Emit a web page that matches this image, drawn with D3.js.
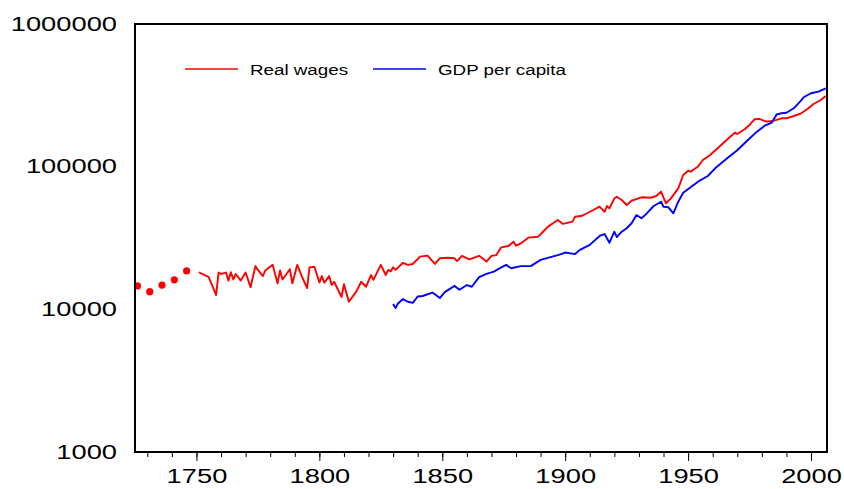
<!DOCTYPE html>
<html>
<head>
<meta charset="utf-8">
<script src="https://cdn.jsdelivr.net/npm/d3@7"></script>
<style>
  body { margin: 0; background: #fff; }
  text { font-family: "Liberation Sans", Arial, sans-serif; fill: #000; }
</style>
</head>
<body>
<svg id="chart" width="844" height="489"></svg>
<script>
// early wage estimates, shown as dots
const wageDotYears = [1726, 1731, 1736, 1741, 1746];
const wageDotValues = [14600, 13300, 14800, 16100, 18600];

// real wages (annual series)
const wageYears = [1751, 1755, 1758, 1759, 1760, 1762, 1763, 1764, 1765, 1766, 1768, 1770, 1772, 1774, 1775, 1777, 1778, 1781, 1783, 1784,
  1785, 1788, 1789, 1791, 1793, 1795, 1796, 1798, 1800, 1801, 1802, 1804, 1805, 1806, 1809, 1810, 1812, 1815, 1817, 1819,
  1821, 1822, 1825, 1827, 1828, 1829, 1830, 1831, 1834, 1836, 1838, 1841, 1844, 1847, 1849, 1852, 1855, 1856, 1858, 1861,
  1865, 1868, 1870, 1872, 1874, 1877, 1879, 1880, 1882, 1885, 1889, 1891, 1893, 1895, 1897, 1899, 1903, 1904, 1907, 1910,
  1914, 1916, 1917, 1918, 1920, 1921, 1923, 1925, 1927, 1931, 1935, 1937, 1939, 1941, 1943, 1946, 1948, 1950, 1951, 1953,
  1954, 1956, 1959, 1963, 1966, 1969, 1970, 1973, 1975, 1977, 1979, 1982, 1985, 1988, 1990, 1993, 1996, 1999, 2001, 2004, 2006];
const wageValues = [18200, 16800, 12600, 18100, 17700, 18100, 15900, 18200, 16200, 17700, 15900, 18100, 14300, 20100, 18900, 17100, 18700, 20500, 15200, 18700,
  16200, 19100, 15200, 20500, 16800, 14100, 19700, 19900, 15400, 17100, 15400, 17100, 14800, 15600, 12200, 15000, 11300, 13300, 15600, 14400,
  17400, 16100, 20500, 17400, 18900, 18400, 19700, 18900, 21200, 20500, 20800, 23400, 23800, 20800, 22800, 23000, 22800, 21800, 23700, 22400,
  23700, 21600, 23700, 24000, 27200, 27800, 29800, 27900, 29000, 31800, 32300, 35000, 38000, 40100, 42300, 39700, 41200, 44600, 45300, 48300,
  52400, 48300, 53000, 51100, 60000, 61600, 58400, 53900, 57700, 61000, 60600, 62300, 66800, 55400, 60000, 70500, 87400, 93700, 92200, 97400,
  100000, 111400, 120700, 139600, 155600, 173100, 169400, 182800, 196000, 214800, 215900, 206700, 210100, 218300, 218300, 226600, 236700, 256500, 275000, 293400, 312900];

// GDP per capita
const gdpYears = [1830, 1831, 1832, 1834, 1836, 1838, 1840, 1842, 1846, 1849, 1851, 1855, 1857, 1860, 1862, 1865, 1868, 1871, 1874, 1876,
  1878, 1882, 1886, 1890, 1894, 1897, 1900, 1904, 1906, 1910, 1914, 1916, 1918, 1920, 1921, 1923, 1925, 1927, 1929, 1931,
  1933, 1936, 1939, 1940, 1942, 1944, 1946, 1948, 1951, 1954, 1958, 1961, 1966, 1970, 1974, 1978, 1981, 1984, 1986, 1988,
  1990, 1993, 1996, 1997, 2000, 2003, 2006];
const gdpValues = [10900, 10200, 11000, 11800, 11300, 11100, 12300, 12400, 13100, 12000, 13200, 14600, 13700, 14800, 14400, 16800, 17700, 18400, 19700, 20500,
  19400, 20100, 20100, 22200, 23200, 24000, 25000, 24400, 26100, 28300, 32700, 33700, 29300, 35000, 32100, 35000, 37000, 40100, 45800, 43500,
  46600, 53000, 56800, 52400, 51900, 47100, 56800, 65700, 71700, 78500, 86000, 97400, 115000, 130300, 151800, 175900, 192800, 203400, 232100, 236700,
  238900, 256500, 291900, 306400, 326900, 335400, 354300];

const seriesNames = ['Real wages', 'GDP per capita'];
const seriesColors = ['#ff0000', '#0000ff'];
const yTicks = [1000, 10000, 100000, 1000000];
const xMajorTicks = [1750, 1800, 1850, 1900, 1950, 2000];
const xMinorTicks = d3.range(1730, 2001, 10);

const margin = { top: 24, right: 17, bottom: 37, left: 135 };
const width = 844 - margin.left - margin.right;
const height = 489 - margin.top - margin.bottom;
const stretch = 1.4;

const svg = d3.select('#chart')
  .append('g')
  .attr('transform', `translate(${margin.left},${margin.top})`);

const x = d3.scaleLinear().domain([1725, 2006.5]).range([0, width]);
const y = d3.scaleLog().domain([1000, 1000000]).range([height, 0]);

svg.append('clipPath').attr('id', 'plot-clip')
  .append('rect').attr('width', width).attr('height', height);

// minor ticks
svg.append('g')
  .attr('transform', `translate(0,${height})`)
  .call(d3.axisBottom(x).tickValues(xMinorTicks).tickSize(5).tickFormat(''))
  .call(g => g.select('.domain').remove())
  .call(g => g.selectAll('line').attr('stroke', '#000').attr('stroke-width', 1));

// major ticks + labels
svg.append('g')
  .attr('transform', `translate(0,${height})`)
  .call(d3.axisBottom(x).tickValues(xMajorTicks).tickSize(9).tickPadding(8).tickFormat(d3.format('d')))
  .call(g => g.select('.domain').remove())
  .call(g => g.selectAll('line').attr('stroke', '#000').attr('stroke-width', 1))
  .call(g => g.selectAll('text')
    .attr('font-size', 19.5)
    .attr('font-family', '"Liberation Sans", Arial, sans-serif')
    .attr('transform', `scale(${stretch},1)`));

svg.append('g')
  .call(d3.axisLeft(y).tickValues(yTicks).tickSize(0).tickPadding(0).tickFormat(d3.format('d')))
  .call(g => g.select('.domain').remove())
  .call(g => g.selectAll('text')
    .attr('x', -18 / stretch)
    .attr('font-size', 19.5)
    .attr('font-family', '"Liberation Sans", Arial, sans-serif')
    .attr('transform', `scale(${stretch},1)`));

const plot = svg.append('g').attr('clip-path', 'url(#plot-clip)');

const line = d3.line()
  .x(d => x(d[0]))
  .y(d => y(d[1]));

plot.append('path')
  .datum(d3.zip(wageYears, wageValues))
  .attr('fill', 'none')
  .attr('stroke', seriesColors[0])
  .attr('stroke-width', 1.9)
  .attr('stroke-linejoin', 'round')
  .attr('d', line);

plot.append('path')
  .datum(d3.zip(gdpYears, gdpValues))
  .attr('fill', 'none')
  .attr('stroke', seriesColors[1])
  .attr('stroke-width', 1.9)
  .attr('stroke-linejoin', 'round')
  .attr('d', line);

plot.selectAll('circle')
  .data(d3.zip(wageDotYears, wageDotValues))
  .enter().append('circle')
  .attr('cx', d => x(d[0]))
  .attr('cy', d => y(d[1]))
  .attr('r', 3.6)
  .attr('fill', seriesColors[0]);

// frame
svg.append('rect')
  .attr('width', width)
  .attr('height', height)
  .attr('fill', 'none')
  .attr('stroke', '#000')
  .attr('stroke-width', 2);

// legend
const legendX = [50, 238];
const legend = svg.append('g').attr('transform', 'translate(0,45)');
seriesNames.forEach((name, i) => {
  legend.append('line')
    .attr('x1', legendX[i]).attr('x2', legendX[i] + 53)
    .attr('y1', 0).attr('y2', 0)
    .attr('stroke', seriesColors[i])
    .attr('stroke-width', 1.5);
  legend.append('text')
    .attr('transform', `translate(${legendX[i] + 65},6) scale(1.22,1)`)
    .attr('font-size', 15.4)
    .text(name);
});
</script>
</body>
</html>
